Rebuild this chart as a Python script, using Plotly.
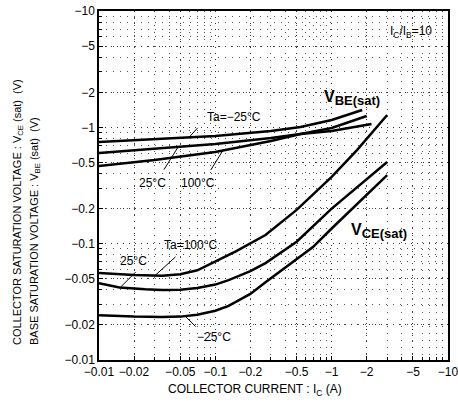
import numpy as np
import plotly.graph_objects as go

# --- VBE(sat) curves: collector current (A, magnitude) vs voltage (V, magnitude) ---
ic_vbe_m25 = [0.01, 0.03, 0.1, 0.3, 0.54, 1.0, 1.83]
vbe_m25 = [0.748, 0.793, 0.842, 0.929, 1.006, 1.156, 1.409]
ic_vbe_25 = [0.01, 0.03, 0.1, 0.3, 0.54, 1.0, 2.2]
vbe_25 = [0.601, 0.651, 0.718, 0.809, 0.876, 0.929, 1.068]
ic_vbe_100 = [0.01, 0.03, 0.1, 0.3, 0.54, 1.0, 2.0]
vbe_100 = [0.465, 0.523, 0.613, 0.763, 0.876, 0.986, 1.251]

# --- VCE(sat) curves ---
ic_vce_100 = [0.01, 0.02, 0.035, 0.05, 0.07, 0.1, 0.15, 0.27, 0.5, 1.0, 1.65, 3.0]
vce_100 = [0.0559, 0.0538, 0.0530, 0.0545, 0.059, 0.070, 0.086, 0.1186, 0.195, 0.375, 0.638, 1.276]
ic_vce_25 = [0.01, 0.015, 0.025, 0.035, 0.05, 0.07, 0.1, 0.13, 0.2, 0.27, 0.5, 1.0, 3.0]
vce_25 = [0.0458, 0.0420, 0.0405, 0.0399, 0.0402, 0.0416, 0.0445, 0.0486, 0.058, 0.0681, 0.104, 0.200, 0.503]
ic_vce_m25 = [0.01, 0.02, 0.035, 0.05, 0.07, 0.1, 0.13, 0.2, 0.27, 0.5, 0.69, 1.0, 3.0]
vce_m25 = [0.0243, 0.0236, 0.0234, 0.0236, 0.0245, 0.0265, 0.0292, 0.037, 0.0465, 0.074, 0.0935, 0.135, 0.389]

# --- ticks ---
tick_vals = [0.01, 0.02, 0.05, 0.1, 0.2, 0.5, 1, 2, 5, 10]
tick_text = ["−0.01", "−0.02", "−0.05", "−0.1", "−0.2", "−0.5", "−1", "−2", "−5", "−10"]
minor_vals = [k * 10.0 ** e for e in range(-2, 1) for k in range(2, 10)]

FONT = "Liberation Sans Narrow, Liberation Sans, Arial, sans-serif"

# plot area in pixels: left 99, top 11, 349 x 349
def px(x):
    return (x - 99) / 349

def py(y):
    return (360 - y) / 349

fig = go.Figure()

curves = [
    (ic_vbe_m25, vbe_m25), (ic_vbe_25, vbe_25), (ic_vbe_100, vbe_100),
    (ic_vce_100, vce_100), (ic_vce_25, vce_25), (ic_vce_m25, vce_m25),
]
for ic, v in curves:
    fig.add_trace(go.Scatter(x=ic, y=v, mode="lines",
                             line=dict(color="black", width=2.5),
                             showlegend=False, hoverinfo="skip"))

def tip(ic, v, at):
    ly = np.interp(np.log10(at), np.log10(ic), np.log10(v))
    return np.log10(at), float(ly)

# leader lines: (curve, Ic at tip, tail offset in px)
leaders = [
    (ic_vbe_m25, vbe_m25, 0.0594, 10, -11),
    (ic_vbe_25, vbe_25, 0.0478, -15, 24),
    (ic_vbe_100, vbe_100, 0.116, -13, 21),
    (ic_vce_100, vce_100, 0.0303, 22, -20),
    (ic_vce_25, vce_25, 0.0152, 17, -17),
    (ic_vce_m25, vce_m25, 0.055, 12, 12),
]
for ic, v, at, dx, dy in leaders:
    tx, ty = tip(ic, v, at)
    fig.add_annotation(x=tx, y=ty, xref="x", yref="y", text="", showarrow=True,
                       ax=dx, ay=dy, arrowhead=0, arrowwidth=1, arrowcolor="black", standoff=0)

labels = [
    ("Ta=−25°C", 234, 117),
    ("25°C", 152, 183),
    ("100°C", 198, 183),
    ("Ta=100°C", 191, 245),
    ("25°C", 133, 261),
    ("−25°C", 214, 337),
]
for txt, x, y in labels:
    fig.add_annotation(x=px(x), y=py(y), xref="paper", yref="paper", text=txt, showarrow=False,
                       xanchor="center", yanchor="middle", font=dict(size=12, color="black", family=FONT))

fig.add_annotation(x=px(322), y=py(98), xref="paper", yref="paper", showarrow=False,
                   text="<b>V<sub><span style='font-size:13px'>BE(sat)</span></sub></b>",
                   xanchor="left", yanchor="middle",
                   font=dict(size=16, color="black", family="Liberation Sans, Arial"))
fig.add_annotation(x=px(349), y=py(231), xref="paper", yref="paper", showarrow=False,
                   text="<b>V<sub><span style='font-size:13px'>CE(sat)</span></sub></b>",
                   xanchor="left", yanchor="middle",
                   font=dict(size=16, color="black", family="Liberation Sans, Arial"))
fig.add_annotation(x=px(434), y=py(32), xref="paper", yref="paper", showarrow=False,
                   text="I<sub>C</sub>/I<sub>B</sub>=10", xanchor="right", yanchor="middle",
                   font=dict(size=12, color="black", family=FONT))

# axis titles
fig.add_annotation(x=px(18), y=py(347), xref="paper", yref="paper", showarrow=False, textangle=-90,
                   text="COLLECTOR SATURATION VOLTAGE : V<sub>CE</sub> (sat)  (V)",
                   xanchor="center", yanchor="bottom", font=dict(size=11, color="black", family=FONT))
fig.add_annotation(x=px(35), y=py(347), xref="paper", yref="paper", showarrow=False, textangle=-90,
                   text="BASE SATURATION VOLTAGE : V<sub>BE</sub> (sat)  (V)",
                   xanchor="center", yanchor="bottom", font=dict(size=11, color="black", family=FONT))
fig.add_annotation(x=px(255), y=py(390), xref="paper", yref="paper", showarrow=False,
                   text="COLLECTOR CURRENT : I<sub>C</sub> (A)",
                   xanchor="center", yanchor="middle", font=dict(size=12, color="black", family=FONT))

axis_common = dict(
    type="log", range=[-2, 1], tickvals=tick_vals, ticktext=tick_text,
    showline=True, linecolor="black", linewidth=1.5, mirror=True,
    ticks="inside", ticklen=4, tickcolor="black",
    showgrid=True, gridcolor="#333", griddash="1px,5px", gridwidth=1,
    zeroline=False, tickfont=dict(size=12, color="black", family=FONT),
    automargin=False, ticklabeloverflow="allow",
    minor=dict(tickvals=minor_vals, ticks="inside", ticklen=3, tickcolor="black",
               showgrid=True, gridcolor="#555", griddash="1px,6px", gridwidth=1),
)
fig.update_xaxes(**axis_common)
fig.update_yaxes(**axis_common)

fig.update_layout(
    width=458, height=407,
    margin=dict(l=99, r=10, t=11, b=47, autoexpand=False),
    paper_bgcolor="white", plot_bgcolor="white",
    showlegend=False,
)

# drop the default page margin so the figure sits at the window's corner
fig.write_html("out.html", config={"displayModeBar": False},
               post_script="document.body.style.margin='0';")
